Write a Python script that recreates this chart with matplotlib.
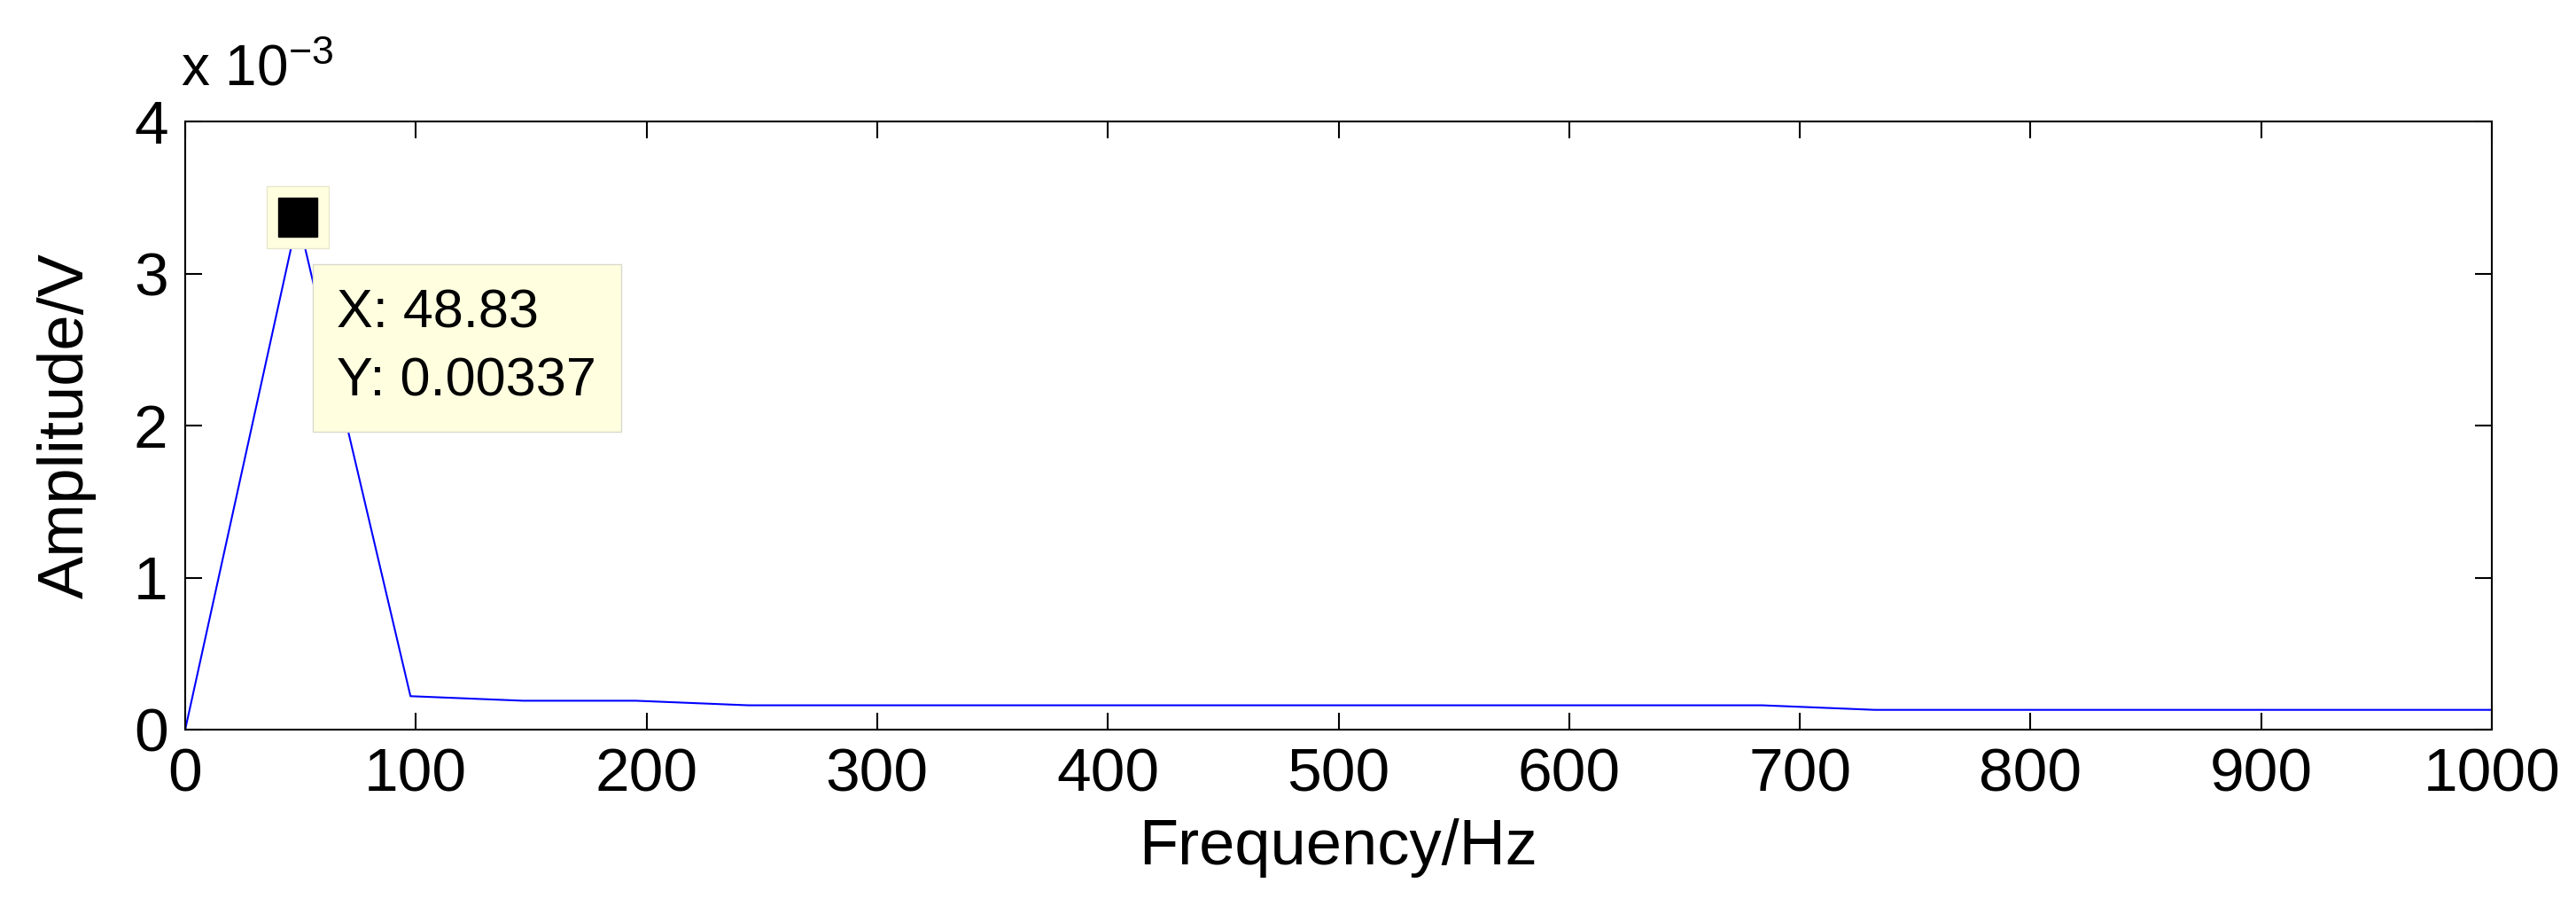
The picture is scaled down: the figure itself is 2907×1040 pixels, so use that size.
import numpy as np
import matplotlib.pyplot as plt
from matplotlib.ticker import FuncFormatter

plt.rcParams['font.family'] = ['Liberation Sans', 'DejaVu Sans']
plt.rcParams['mathtext.fontset'] = 'custom'
plt.rcParams['mathtext.rm'] = 'Liberation Sans'

# spectrum samples (bin spacing 48.83 Hz)
freq = [0, 48.83, 97.66, 146.48, 195.31, 244.14, 292.97, 341.8, 390.63, 439.45,
        488.28, 537.11, 585.94, 634.77, 683.59, 732.42, 781.25, 830.08, 878.91,
        927.73, 976.56, 1025.39]
amp = [0, 0.00337, 0.00022, 0.00019, 0.00019, 0.00016, 0.00016, 0.00016, 0.00016,
       0.00016, 0.00016, 0.00016, 0.00016, 0.00016, 0.00016, 0.00013, 0.00013,
       0.00013, 0.00013, 0.00013, 0.00013, 0.00013]
tip_x = 48.83
tip_y = 0.00337

fig = plt.figure(figsize=(29.07, 10.40), dpi=100)
ax = fig.add_axes([209/2907, 1 - 823/1040, (2812-209)/2907, (823-137)/1040])
ax.plot(freq, amp, color='blue', lw=1.5)
ax.set_xlim(0, 1000)
ax.set_ylim(0, 0.004)
ax.set_xticks(range(0, 1001, 100))
ax.set_yticks([0, 0.001, 0.002, 0.003, 0.004])
ax.yaxis.set_major_formatter(FuncFormatter(lambda v, p: f'{v*1000:g}'))
ax.tick_params(labelsize=50, direction='in', length=14, width=1.5, top=True, right=True, pad=14)
for s in ax.spines.values():
    s.set_linewidth(1.5)
ax.set_xlabel('Frequency/Hz', fontsize=52, labelpad=12)
ax.set_ylabel('Amplitude/V', fontsize=52, labelpad=30)
ax.text(-0.002, 1.04, r'x 10$^{-3}$', transform=ax.transAxes, fontsize=46, ha='left', va='bottom')

# data tip
ax.plot([tip_x], [tip_y], marker='s', ms=50, color=(1, 1, 0.88), mec=(0.9, 0.9, 0.8), zorder=4)
ax.plot([tip_x], [tip_y], marker='s', ms=32, color='black', zorder=5)
ax.text(tip_x + 17, tip_y - 0.00047,
        f'X: {tip_x}\nY: {tip_y}', fontsize=44, va='top', ha='left', linespacing=1.45,
        bbox=dict(boxstyle='square,pad=0.45', fc=(1, 1, 0.88), ec=(0.85, 0.85, 0.8)), zorder=6)

fig.savefig('out.png')
